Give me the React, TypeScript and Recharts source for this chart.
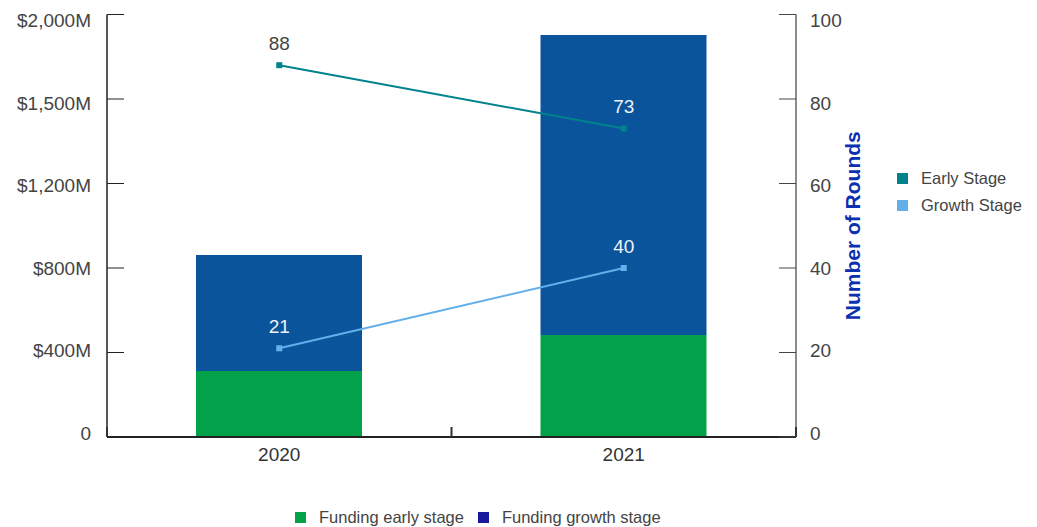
import React from "react";
import {
  ComposedChart,
  Bar,
  Line,
  XAxis,
  YAxis,
  LabelList,
  Label,
} from "recharts";

// values
const years = ["2020", "2021"];
const fundingEarly = [312, 483]; // $M
const fundingGrowth = [549, 1420]; // $M
const roundsEarly = [88, 73];
const roundsGrowth = [21, 40];

const leftTicks = [0, 400, 800, 1200, 1600, 2000];
const leftTickLabels = ["0", "$400M", "$800M", "$1,200M", "$1,500M", "$2,000M"];
const rightTicks = [0, 20, 40, 60, 80, 100];

const barNames = ["Funding early stage", "Funding growth stage"];
const lineNames = ["Early Stage", "Growth Stage"];

const GREEN = "#02a14a";
const BLUE = "#0a549b";
const TEAL = "#00838c";
const LIGHT_BLUE = "#62b0ea";
const LEGEND_BLUE = "#1a1a9c";
const TEXT = "#444444";
const FONT = "'Liberation Sans', Arial, Helvetica, sans-serif";

const data = years.map((year, i) => ({
  year,
  fundingEarly: fundingEarly[i],
  fundingGrowth: fundingGrowth[i],
  roundsEarly: roundsEarly[i],
  roundsGrowth: roundsGrowth[i],
}));

// tick labels sit a little closer together than the tick marks
const YTick = (props: any) => {
  const { x, y, payload, textAnchor, formatter } = props;
  const idx = props.index ?? 0;
  const shift = 2 * idx - 4;
  return (
    <text
      x={x}
      y={y + shift}
      dy="0.355em"
      textAnchor={textAnchor}
      fill={TEXT}
      fontSize={19}
      fontFamily={FONT}
    >
      {formatter ? formatter(payload.value) : payload.value}
    </text>
  );
};

const XTick = (props: any) => {
  const { x, y, payload, index, visibleTicksCount } = props;
  const off = payload?.offset ?? 0;
  const axisY = y - 11;
  const isLast = index === (visibleTicksCount ?? 1) - 1;
  return (
    <g>
      <line x1={x - off} x2={x - off} y1={axisY} y2={axisY - 10} stroke="#333" strokeWidth={2} />
      {isLast && (
        <line x1={x + off} x2={x + off} y1={axisY} y2={axisY - 10} stroke="#333" strokeWidth={2} />
      )}
      <text x={x} y={y} dy="0.71em" textAnchor="middle" fill="#333" fontSize={19} fontFamily={FONT}>
        {payload.value}
      </text>
    </g>
  );
};

const squareDot = (color: string) => (props: any) => {
  const { cx, cy, index } = props;
  if (cx == null || cy == null) return <g key={index} />;
  return <rect key={index} x={cx - 3} y={cy - 3} width={6} height={6} fill={color} />;
};

const pointLabel = (darkIndex: number) => (props: any) => {
  const { x, y, value, index } = props;
  return (
    <text
      key={index}
      x={x}
      y={y - 22}
      dy="0.355em"
      textAnchor="middle"
      fill={index === darkIndex ? TEXT : "#eef2f7"}
      fontSize={19}
      fontFamily={FONT}
    >
      {value}
    </text>
  );
};

const LegendItem = ({ color, text }: { color: string; text: string }) => (
  <div style={{ display: "flex", alignItems: "center" }}>
    <span style={{ width: 11, height: 11, background: color, display: "inline-block", marginRight: 13 }} />
    <span style={{ color: TEXT, fontSize: 16.5, fontFamily: FONT, whiteSpace: "nowrap" }}>{text}</span>
  </div>
);

export default function App() {
  const leftFormatter = (v: number) => {
    const i = leftTicks.indexOf(v);
    return i >= 0 ? leftTickLabels[i] : String(v);
  };

  return (
    <div
      style={{
        position: "absolute",
        left: 0,
        top: 0,
        width: 1037,
        height: 527,
        background: "#ffffff",
        fontFamily: FONT,
      }}
    >
      <ComposedChart
        width={1037}
        height={527}
        data={data}
        margin={{ top: 14.5, right: 127, bottom: 50, left: 0 }}
        barCategoryGap={0}
      >
        <XAxis
          dataKey="year"
          axisLine={{ stroke: "#222", strokeWidth: 2 }}
          tickLine={false}
          tickSize={0}
          tickMargin={11}
          height={40}
          tick={<XTick />}
          interval={0}
        />
        <YAxis
          yAxisId="left"
          orientation="left"
          domain={[0, 2000]}
          ticks={leftTicks}
          width={107}
          axisLine={{ stroke: "#222", strokeWidth: 1.5 }}
          tickLine={{ stroke: "#222" }}
          tickSize={-17}
          tickMargin={33}
          tick={<YTick formatter={leftFormatter} />}
          interval={0}
        />
        <YAxis
          yAxisId="right"
          orientation="right"
          domain={[0, 100]}
          ticks={rightTicks}
          width={114}
          axisLine={{ stroke: "#666", strokeWidth: 1.5 }}
          tickLine={{ stroke: "#444" }}
          tickSize={-17}
          tickMargin={31}
          tick={<YTick />}
          interval={0}
        >
          <Label
            value="Number of Rounds"
            angle={-90}
            position="center"
            fill="#0a2fb0"
            fontSize={21}
            fontWeight="bold"
            fontFamily={FONT}
          />
        </YAxis>
        <Bar
          yAxisId="left"
          dataKey="fundingEarly"
          name={barNames[0]}
          stackId="funding"
          fill={GREEN}
          barSize={166}
          isAnimationActive={false}
        />
        <Bar
          yAxisId="left"
          dataKey="fundingGrowth"
          name={barNames[1]}
          stackId="funding"
          fill={BLUE}
          barSize={166}
          isAnimationActive={false}
        />
        <Line
          yAxisId="right"
          type="linear"
          dataKey="roundsEarly"
          name={lineNames[0]}
          stroke={TEAL}
          strokeWidth={2}
          dot={squareDot(TEAL)}
          activeDot={false}
          isAnimationActive={false}
        >
          <LabelList dataKey="roundsEarly" content={pointLabel(0)} />
        </Line>
        <Line
          yAxisId="right"
          type="linear"
          dataKey="roundsGrowth"
          name={lineNames[1]}
          stroke={LIGHT_BLUE}
          strokeWidth={2}
          dot={squareDot(LIGHT_BLUE)}
          activeDot={false}
          isAnimationActive={false}
        >
          <LabelList dataKey="roundsGrowth" content={pointLabel(-1)} />
        </Line>
      </ComposedChart>

      {/* line legend, right side */}
      <div style={{ position: "absolute", left: 897, top: 169, display: "flex", flexDirection: "column", gap: 8 }}>
        <LegendItem color={TEAL} text={lineNames[0]} />
        <LegendItem color={LIGHT_BLUE} text={lineNames[1]} />
      </div>

      {/* bar legend, bottom */}
      <div style={{ position: "absolute", left: 295, top: 508, display: "flex", gap: 14 }}>
        <LegendItem color={GREEN} text={barNames[0]} />
        <LegendItem color={LEGEND_BLUE} text={barNames[1]} />
      </div>
    </div>
  );
}
